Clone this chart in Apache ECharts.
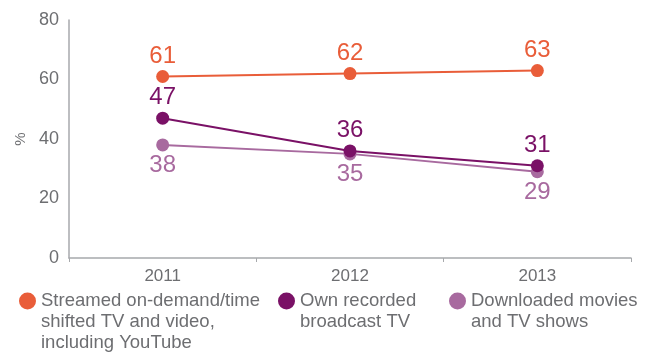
<!DOCTYPE html>
<html>
<head>
<meta charset="utf-8">
<script src="https://cdn.jsdelivr.net/npm/echarts@6/dist/echarts.min.js"></script>
<style>html,body{margin:0;padding:0;background:#fff}#c{width:651px;height:356px}</style>
</head>
<body>
<div id="c"></div>
<script>
const years = ['2011', '2012', '2013'];
const streamed = [61, 62, 63];
const recorded = [47, 36, 31];
const downloaded = [38, 35, 29];
const seriesNames = ['Streamed', 'Recorded', 'Downloaded'];
const legendTexts = [
  ['Streamed on-demand/time', 'shifted TV and video,', 'including YouTube'],
  ['Own recorded', 'broadcast TV'],
  ['Downloaded movies', 'and TV shows']
];
const colors = ['#e95d39', '#7a1166', '#a86a9f'];

const FONT = 'Liberation Sans, Arial, sans-serif';
const LH = 21;
const chart = echarts.init(document.getElementById('c'), null, {renderer: 'canvas'});

function mkSeries(i, data, pos) {
  return {
    name: seriesNames[i], type: 'line', data: data,
    symbol: 'circle', symbolSize: 13,
    lineStyle: {width: 2, color: colors[i]},
    itemStyle: {color: colors[i]},
    label: {show: true, position: pos, distance: 2, color: colors[i], fontSize: 24, fontFamily: FONT},
    z: 10 - i
  };
}
function mkLegend(i, left) {
  const lines = legendTexts[i];
  const n = lines.length;
  const H = (2 * n - 1) * LH;
  const blanks = new Array(n - 1).fill(' ');
  const txt = blanks.concat(lines).join('\n');
  return {
    data: [seriesNames[i]], left: left, top: 301 - H / 2, padding: 0,
    icon: 'circle', itemWidth: 17, itemHeight: 17,
    formatter: () => txt,
    textStyle: {color: '#6d6e71', fontSize: 18.5, lineHeight: LH, fontFamily: FONT},
    selectedMode: false
  };
}
chart.setOption({
  animation: false,
  grid: {left: 69, right: 20, top: 20, bottom: 98, containLabel: false},
  xAxis: {
    type: 'category', data: years, boundaryGap: true,
    axisLine: {lineStyle: {color: '#a7a9ac', width: 1.5}},
    axisTick: {show: true, length: 4, lineStyle: {color: '#a7a9ac'}},
    axisLabel: {color: '#6d6e71', fontSize: 17, fontFamily: FONT, margin: 10}
  },
  yAxis: {
    type: 'value', min: 0, max: 80, interval: 20,
    name: '%', nameLocation: 'middle', nameRotate: 90, nameGap: 41,
    nameTextStyle: {color: '#6d6e71', fontSize: 15, fontFamily: FONT},
    axisLine: {show: true, lineStyle: {color: '#a7a9ac', width: 1.5}},
    axisTick: {show: false},
    splitLine: {show: false},
    axisLabel: {color: '#6d6e71', fontSize: 18, fontFamily: FONT, margin: 10}
  },
  legend: [mkLegend(0, 19), mkLegend(1, 278), mkLegend(2, 449)],
  series: [
    mkSeries(0, streamed, 'top'),
    mkSeries(1, recorded, 'top'),
    mkSeries(2, downloaded, 'bottom')
  ]
});
</script>
</body>
</html>
